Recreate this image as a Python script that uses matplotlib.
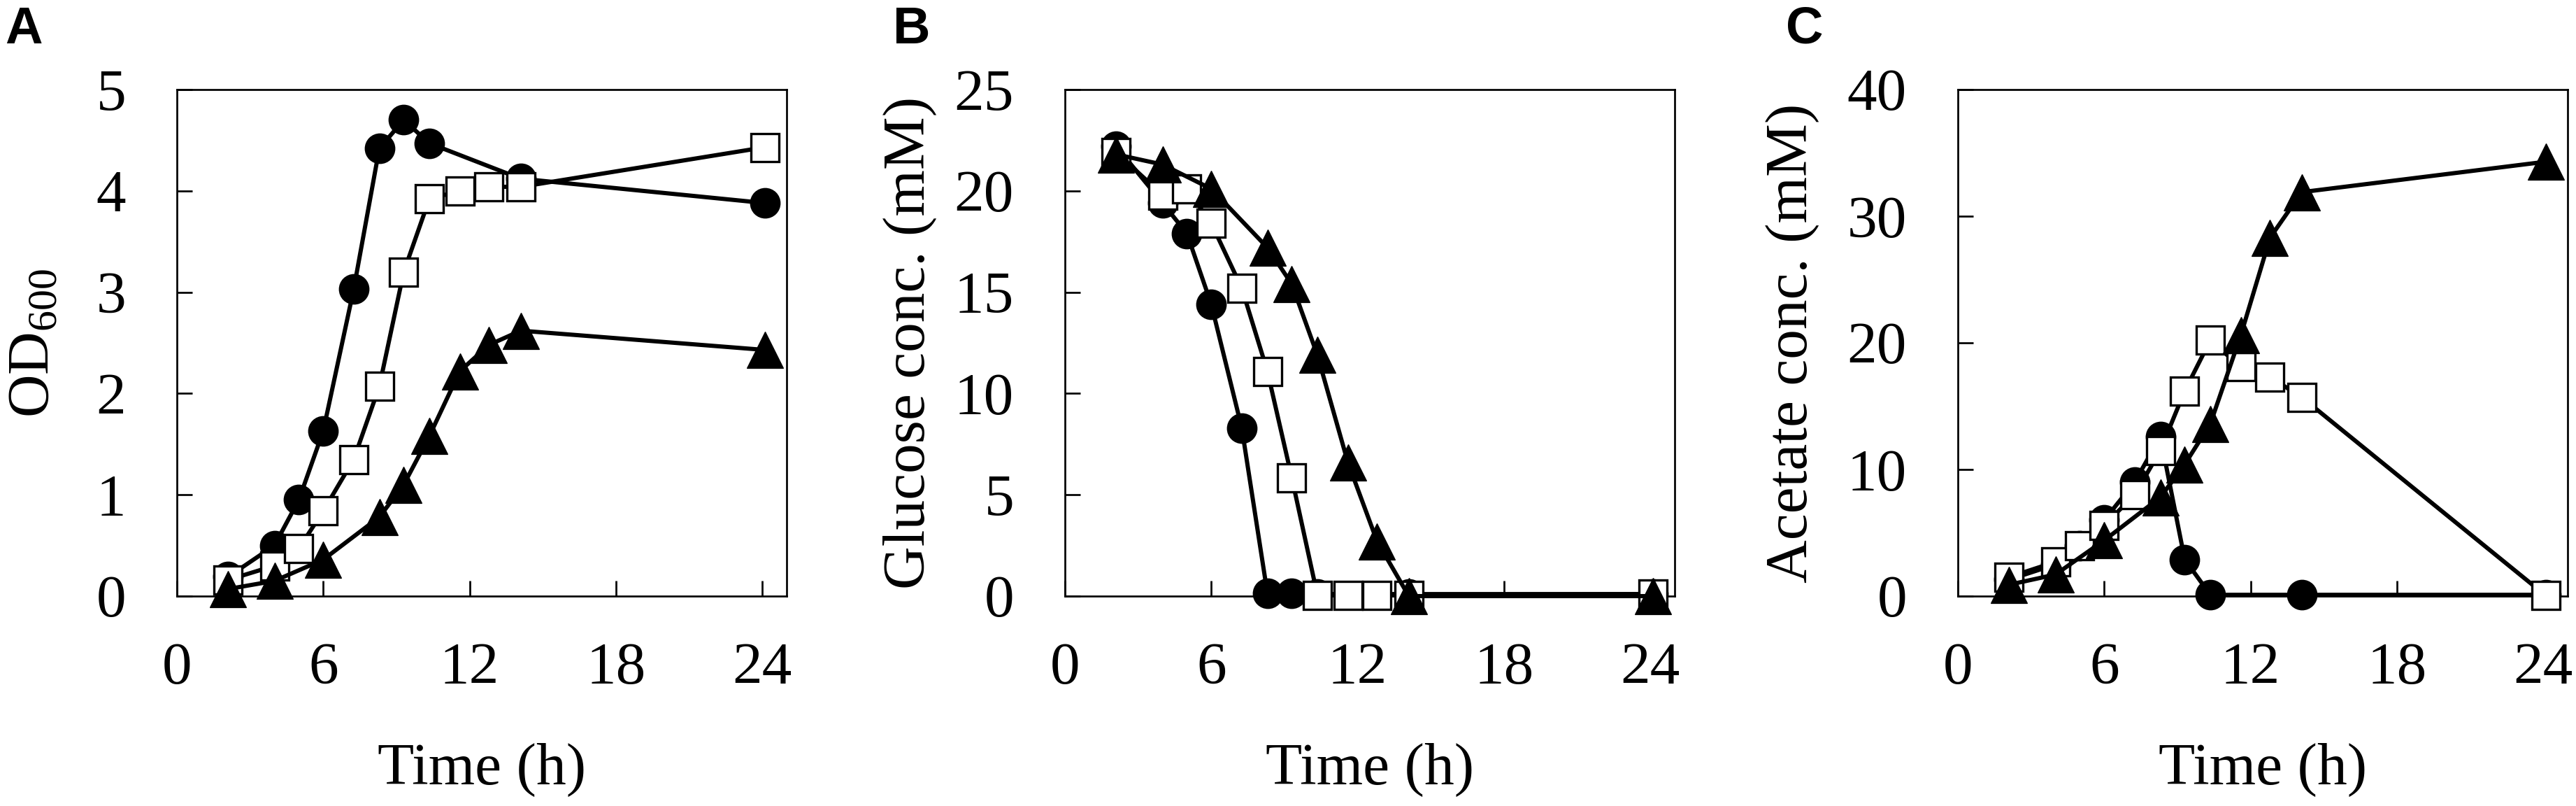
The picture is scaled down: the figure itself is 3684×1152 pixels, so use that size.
#!/usr/bin/env python3
# -*- coding: utf-8 -*-

"""

growth (OD600), glucose and acetate vs time for three strains

"""
import matplotlib
matplotlib.use('Agg')
import matplotlib.pyplot as plt

# sampling times (h) per strain
t_circle = [2.1, 4.0, 5.0, 6.0, 7.25, 8.3, 9.3, 10.35, 14.1, 24.1]
t_square = [2.1, 4.0, 5.0, 6.0, 7.25, 8.3, 9.3, 10.35, 11.6, 12.8, 14.1, 24.1]
t_triangle = [2.1, 4.0, 6.0, 8.3, 9.3, 10.35, 11.6, 12.8, 14.1, 24.1]

# A: OD600
od_circle = [0.19, 0.50, 0.95, 1.63, 3.03, 4.42, 4.70, 4.47, 4.12, 3.88]
od_square = [0.16, 0.30, 0.47, 0.84, 1.35, 2.07, 3.20, 3.92, 4.00, 4.04, 4.04, 4.43]
od_triangle = [0.07, 0.15, 0.36, 0.78, 1.10, 1.58, 2.22, 2.48, 2.62, 2.43]

# B: glucose (mM)
glc_circle = [22.2, 19.4, 17.9, 14.4, 8.3, 0.15, 0.15, 0.1, 0.1, 0.1]
glc_square = [21.9, 19.8, 20.1, 18.4, 15.2, 11.1, 5.85, 0.05, 0.05, 0.05, 0.05, 0.1]
glc_triangle = [21.8, 21.3, 20.1, 17.2, 15.4, 11.9, 6.6, 2.7, 0.0, 0.0]

# C: acetate (mM)
ace_circle = [1.3, 2.5, 4.0, 6.0, 9.0, 12.6, 2.9, 0.1, 0.1, 0.1]
ace_square = [1.5, 2.7, 4.0, 5.6, 8.0, 11.5, 16.2, 20.2, 18.1, 17.3, 15.7, 0.05]
ace_triangle = [0.9, 1.7, 4.4, 7.8, 10.4, 13.6, 20.6, 28.3, 31.9, 34.3]

xticks = [0, 6, 12, 18, 24]

panels = [
    ('A', 'OD$_{600}$', (od_circle, od_square, od_triangle), [0, 1, 2, 3, 4, 5], -0.190),
    ('B', 'Glucose conc. (mM)', (glc_circle, glc_square, glc_triangle), [0, 5, 10, 15, 20, 25], -0.210),
    ('C', 'Acetate conc. (mM)', (ace_circle, ace_square, ace_triangle), [0, 10, 20, 30, 40], -0.227),
]

plt.rcParams['font.family'] = ['Liberation Serif', 'DejaVu Serif']
plt.rcParams['mathtext.fontset'] = 'custom'
plt.rcParams['mathtext.rm'] = 'Liberation Serif'
plt.rcParams['mathtext.it'] = 'Liberation Serif:italic'
plt.rcParams['font.size'] = 20.5

W, H = 3684, 1152
fig = plt.figure(figsize=(W / 300, H / 300), dpi=300)

lefts = [253, 1523, 2800]
width, top, bottom = 872, 128, 852

for (letter, ylabel, (yc, ys, yt), yticks, labx), left in zip(panels, lefts):
    ax = fig.add_axes([left / W, 1 - bottom / H, width / W, (bottom - top) / H])

    ax.plot(t_circle, yc, color='black', lw=1.45, marker='o', ms=9.8,
            mfc='black', mec='black', mew=0.7, clip_on=False, zorder=3)
    ax.plot(t_square, ys, color='black', lw=1.45, marker='s', ms=9.4,
            mfc='white', mec='black', mew=0.8, clip_on=False, zorder=4)
    ax.plot(t_triangle, yt, color='black', lw=1.45, marker='^', ms=12.5,
            mfc='black', mec='black', mew=0.3, clip_on=False, zorder=5)

    ax.set_xlim(0, 25)
    ax.set_ylim(yticks[0], yticks[-1])
    ax.set_xticks(xticks)
    ax.set_yticks(yticks)
    ax.tick_params(direction='in', length=5.3, width=0.65, top=False, right=False)
    ax.tick_params(axis='x', pad=15.8)
    ax.tick_params(axis='y', pad=17.5)
    for sp in ax.spines.values():
        sp.set_linewidth(0.65)

    ax.set_xlabel('Time (h)', labelpad=16)
    ax.set_ylabel(ylabel)
    ax.yaxis.set_label_coords(labx, 0.5)

    fig.text((left - 246) / W, 1 - 8 / H, letter, family='Liberation Sans',
             weight='bold', fontsize=17.8, ha='left', va='top')

plt.savefig('out.png', dpi=300)
